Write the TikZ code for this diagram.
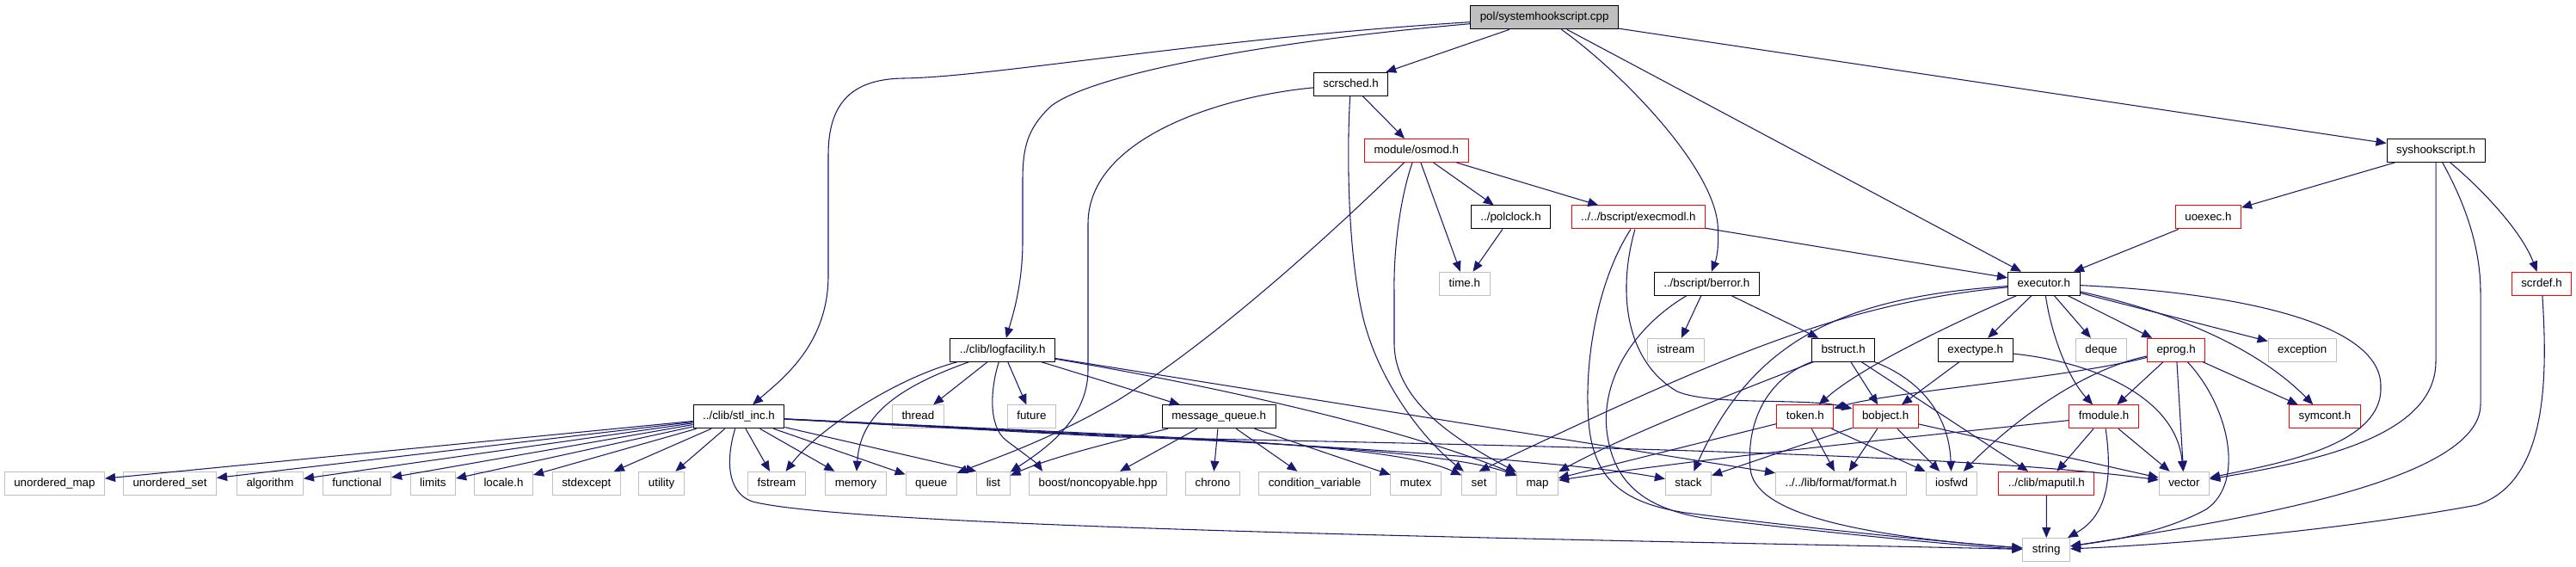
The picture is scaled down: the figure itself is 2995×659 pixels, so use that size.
\documentclass[tikz,border=0pt]{standalone}
\usepackage{fontspec}
\setmainfont{Liberation Sans}
\usetikzlibrary{arrows.meta}
\definecolor{edgeblue}{HTML}{191970}
\definecolor{boxgray}{HTML}{BFBFBF}

\begin{document}
\begin{tikzpicture}[
  x=0.75pt, y=-0.75pt,
  hfile/.style={draw, line width=0.75pt, fill=white, minimum height=20.25pt,
    inner xsep=8.3pt, inner ysep=0pt, text height=7.3pt, text depth=2pt,
    font=\fontsize{10}{12}\selectfont},
  root/.style={hfile, fill=boxgray},
  sysinc/.style={hfile, draw=boxgray},
  partial/.style={hfile, draw=red},
  incl/.style={draw=edgeblue, line width=0.8pt,
    -{Triangle[length=9pt, width=7.5pt]}},
]
  \useasboundingbox (0,0) rectangle (2995,659);

  % Source file and project headers
  \node[root] (main) at (1795.6,20.3) {pol/systemhookscript.cpp};
  \node[hfile] (scrsched) at (1570.6,97.8) {scrsched.h};
  \node[partial] (osmod) at (1646.8,175) {module/osmod.h};
  \node[hfile] (syshook) at (2832,175) {syshookscript.h};
  \node[hfile] (polclock) at (1756.6,252.5) {../polclock.h};
  \node[partial] (execmodl) at (1904.9,252.5) {../../bscript/execmodl.h};
  \node[partial] (uoexec) at (2567.4,252.5) {uoexec.h};
  \node[sysinc] (timeh) at (1702.8,329.7) {time.h};
  \node[hfile] (berror) at (1984.3,329.7) {../bscript/berror.h};
  \node[hfile] (executor) at (2376.3,329.7) {executor.h};
  \node[partial] (scrdef) at (2955,329.7) {scrdef.h};
  \node[hfile] (logfac) at (1165.7,406.8) {../clib/logfacility.h};
  \node[sysinc] (istream) at (1948.4,406.8) {istream};
  \node[hfile] (bstruct) at (2143.1,406.8) {bstruct.h};
  \node[hfile] (exectype) at (2296.7,406.8) {exectype.h};
  \node[sysinc] (deque) at (2443,406.8) {deque};
  \node[partial] (eprog) at (2530.1,406.8) {eprog.h};
  \node[sysinc] (exception) at (2676.7,406.8) {exception};
  \node[hfile] (stlinc) at (859,484.3) {../clib/stl\_inc.h};
  \node[sysinc] (thread) at (1067.4,484.3) {thread};
  \node[sysinc] (future) at (1199.4,484.3) {future};
  \node[hfile] (msgq) at (1417.2,484.3) {message\_queue.h};
  \node[partial] (token) at (2098.8,484.3) {token.h};
  \node[partial] (bobject) at (2192.1,484.3) {bobject.h};
  \node[partial] (fmodule) at (2446.1,484.3) {fmodule.h};
  \node[partial] (symcont) at (2703,484.3) {symcont.h};

  % Bottom row
  \foreach \n/\x/\t in {umap/63.4/unordered\_map, uset/197.5/unordered\_set,
      algorithm/314/algorithm, functional/415/functional, limits/503.4/limits,
      locale/585.5/locale.h, stdexcept/681.8/stdexcept, utility/769.1/utility,
      fstream/902.9/fstream, memory/994.9/memory, queue/1082.7/queue,
      list/1154.9/list, chrono/1410/chrono, condvar/1528.5/condition\_variable,
      mutex/1646.1/mutex, set/1719.6/set, map/1787.5/map, stack/1963/stack,
      iosfwd/2269/iosfwd, vector/2539.4/vector} {
    \node[sysinc] (\n) at (\x,561.8) {\t};
  }
  \node[sysinc] (boost) at (1276.6,561.8) {boost/noncopyable.hpp};
  \node[sysinc] (format) at (2140.4,561.8) {../../lib/format/format.h};
  \node[partial] (maputil) at (2379.4,561.8) {../clib/maputil.h};
  \node[sysinc] (string) at (2379.2,639) {string};

  % Straight includes
  \foreach \a/\b in {main/scrsched, main/executor, main/syshook,
      scrsched/osmod, osmod/timeh, osmod/polclock, osmod/execmodl,
      polclock/timeh, execmodl/executor, syshook/uoexec, uoexec/executor,
      berror/istream, berror/bstruct, bstruct/bobject, bstruct/maputil,
      executor/exectype, executor/deque, executor/eprog, executor/exception,
      exectype/bobject, eprog/fmodule, eprog/vector, eprog/symcont,
      token/format, token/iosfwd, token/map, bobject/format, bobject/iosfwd,
      bobject/vector, bobject/stack, fmodule/maputil, fmodule/vector,
      maputil/string, logfac/thread, logfac/future, logfac/msgq,
      logfac/format, msgq/boost, msgq/chrono, msgq/condvar, msgq/mutex} {
    \draw[incl] (\a) -- (\b);
  }

  % stl_inc.h fan
  \foreach \t in {umap, uset, algorithm, functional, limits, locale,
      stdexcept, utility, fstream, memory, queue} {
    \draw[incl] (stlinc) -- (\t);
  }
  \draw[incl] (stlinc) -- (list.north west);
  \draw[incl] (stlinc) -- (1300,505) .. controls (1500,515) and (1640,525) .. (set);
  \draw[incl] (stlinc) -- (1300,506) .. controls (1550,518) and (1700,530) .. (map);
  \draw[incl] (stlinc) -- (1300,507) .. controls (1600,520) and (1850,540) .. (stack);
  \draw[incl] (stlinc) -- (1300,508) .. controls (1900,520) and (2300,530) .. (vector);
  \draw[incl] (stlinc) .. controls (845,530) and (843,572) .. (875,583)
    .. controls (1000,615) and (1900,628) .. (string);

  % Long includes from the source file
  \draw[incl] (main) .. controls (1400,45) and (1150,90) .. (1050,91)
    .. controls (990,92) and (963,120) .. (963,180) -- (963,320)
    .. controls (963,400) and (910,440) .. (stlinc);
  \draw[incl] (main) .. controls (1450,50) and (1260,90) .. (1220,125)
    .. controls (1195,150) and (1189,170) .. (1189,210) -- (1189,280)
    .. controls (1189,330) and (1178,365) .. (logfac);
  \draw[incl] (main) .. controls (1880,80) and (1990,190) .. (1997,260)
    .. controls (1999,285) and (1996,300) .. (berror);

  % scrsched.h and module/osmod.h
  \draw[incl] (scrsched) .. controls (1420,112) and (1265,160) .. (1265,260)
    -- (1265,430) .. controls (1265,490) and (1210,525) .. (list);
  \draw[incl] (scrsched) .. controls (1566,170) and (1566,290) .. (1585,370)
    .. controls (1605,450) and (1660,515) .. (set);
  \draw[incl] (osmod) .. controls (1560,260) and (1420,390) .. (1300,465)
    .. controls (1220,512) and (1150,535) .. (queue);
  \draw[incl] (osmod) .. controls (1628,230) and (1620,290) .. (1621,340)
    -- (1621,400) .. controls (1622,470) and (1700,515) .. (map);

  % execmodl.h and berror.h
  \draw[incl] (execmodl) .. controls (1880,340) and (1890,420) .. (1950,455)
    .. controls (1990,472) and (2100,462) .. (bobject);
  \draw[incl] (execmodl) .. controls (1855,330) and (1840,430) .. (1848,500)
    .. controls (1856,560) and (1890,585) .. (1960,596)
    .. controls (2150,620) and (2300,633) .. (string);
  \draw[incl] (berror) .. controls (1900,380) and (1862,440) .. (1868,500)
    .. controls (1875,560) and (1910,590) .. (1980,602)
    .. controls (2150,622) and (2300,636) .. (string);

  % bstruct.h
  \draw[incl] (bstruct) .. controls (2230,440) and (2266,480) .. (iosfwd);
  \draw[incl] (bstruct) .. controls (2060,440) and (1900,500) .. (map);
  \draw[incl] (bstruct) .. controls (2055,440) and (2030,490) .. (2035,545)
    .. controls (2040,595) and (2150,622) .. (string);

  % executor.h
  \draw[incl] (executor) .. controls (2560,370) and (2640,420) .. (symcont);
  \draw[incl] (executor) .. controls (2600,340) and (2770,375) .. (2768,450)
    .. controls (2770,520) and (2640,540) .. (vector);
  \draw[incl] (executor) .. controls (2385,390) and (2405,440) .. (fmodule);
  \draw[incl] (executor) .. controls (2250,385) and (2160,430) .. (token);
  \draw[incl] (executor) .. controls (2150,352) and (2020,405) .. (set.north);
  \draw[incl] (executor) .. controls (2150,345) and (2040,390) .. (stack);

  % exectype.h, eprog.h, fmodule.h
  \draw[incl] (exectype) .. controls (2430,420) and (2530,460) .. (vector);
  \draw[incl] (eprog) .. controls (2590,470) and (2612,560) .. (2565,592)
    .. controls (2510,622) and (2440,630) .. (string);
  \draw[incl] (eprog) .. controls (2400,440) and (2200,455) .. (token);
  \draw[incl] (eprog) .. controls (2420,430) and (2340,490) .. (iosfwd);
  \draw[incl] (fmodule) .. controls (2457,560) and (2448,600) .. (string);
  \draw[incl] (fmodule) .. controls (2250,505) and (2000,530) .. (map);

  % syshookscript.h and scrdef.h
  \draw[incl] (syshook) -- (2832,420) .. controls (2832,505) and (2700,535) .. (vector);
  \draw[incl] (syshook) .. controls (2868,240) and (2884,290) .. (2884,340)
    -- (2884,470) .. controls (2884,560) and (2600,605) .. (string);
  \draw[incl] (syshook) .. controls (2880,215) and (2930,265) .. (scrdef);
  \draw[incl] (scrdef) .. controls (2962,440) and (2962,560) .. (2880,587)
    .. controls (2700,620) and (2500,634) .. (string);

  % logfacility.h and message_queue.h
  \draw[incl] (logfac) .. controls (1040,440) and (950,500) .. (fstream);
  \draw[incl] (logfac) .. controls (1030,455) and (1000,490) .. (memory);
  \draw[incl] (logfac) .. controls (1152,450) and (1148,495) .. (1170,512)
    .. controls (1190,527) and (1205,538) .. ([xshift=12pt]boost.north west);
  \draw[incl] (logfac) .. controls (1450,455) and (1650,505) .. (map);
  \draw[incl] (msgq) .. controls (1300,512) and (1220,532) .. (list);
\end{tikzpicture}
\end{document}
